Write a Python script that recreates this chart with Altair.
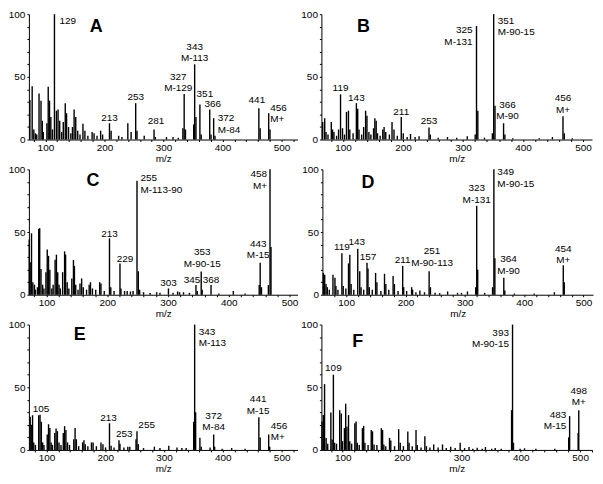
import altair as alt
import pandas as pd

FONT = "Liberation Sans, Arial, Helvetica, sans-serif"

# ---------------- data (m/z, relative intensity) ----------------
A_peaks = [(91.5,31.5),(95,42.5),(97.5,8),(100,5),(102,4),(105.5,36.7),(108.5,31),(110.5,15),(112,6),(117.5,13),(119.5,42),(121.5,31),(123.5,18),(126,8),(129,100),(132,23),(134.5,24),(137,15),(140,6),(142.5,14),(145.5,29),(147.5,21),(150.5,10),(154,5),(156.5,10),(159,24),(161.5,18),(164.5,7),(168,4),(172.5,12.5),(175.5,7),(180,3),(186.5,6),(189.5,5),(194,3),(199.5,7),(202.5,4),(213,13),(215.5,7),(227,3),(232,2),(241,13),(246,6),(253,29),(255,7),(266,3),(281,8),(283,2),(300,2),(310,2),(318,1.5),(325,9),(327,36.4),(329,8),(341.5,12),(343,60),(345,18),(351,28),(353,4),(366,24),(368,4),(372,17),(374,3),(441,25),(443,9),(456,21),(458,8)]
B_peaks = [(92,14),(95,17),(97,6),(100,4),(105,14),(107,8),(109,6),(113,3),(116,8),(119,36),(122,9),(125,4),(128,22),(131,23),(133,8),(138,5),(143,29),(145,24.5),(147,8),(151,4),(154,10),(157,23),(159,19),(162,6),(165,4),(169,9),(171,17),(173,15),(175,5),(179,3),(183,8),(185,10),(187.5,6),(193,4),(197,14),(200,8),(205,3),(211,18),(214,5),(220,2),(225,4.4),(232,2),(238,2.6),(253,9.6),(255,4),(267,1.5),(281,2),(295,1.5),(311,2.6),(323,4),(325,90.5),(327,23),(337,1.5),(349,5),(351,100),(353,27),(366,13),(368,4),(380,1),(420,1),(440,2),(456,18.6),(458,5),(470,1)]
C_peaks = [(90.5,44),(92,26),(94,49),(96,10),(98.5,8),(100,4),(103,6),(105,52.6),(106.5,53),(108.5,20.5),(111,8),(113,5),(116,18),(118,36),(120,31),(122,20),(125,5),(127,8),(130,28),(132,32),(134,18),(136,8),(138,5),(141.5,18),(144.5,34.6),(146,32),(148.5,10),(151,5),(155.5,13),(158,27.7),(159.5,23),(161.5,8),(165,4),(168,9),(170.5,13),(173,6),(178,4),(182,8),(184,10),(187,5),(192,4),(198,10),(200,9),(205,3),(213,45),(215,6),(220,3),(229,25),(230.5,5),(236,3),(240,3),(245,2.6),(249,3),(255,91),(257,18.7),(259,4),(265,2),(275,1.3),(285,2),(290,1.5),(303,5),(310,1.5),(317,2.6),(320,2),(326,2),(335,1.5),(345,7.7),(347,3),(353,18.5),(354.5,4),(368,7.7),(380,1),(402,3),(420,1),(441.5,7.7),(443,25.6),(445,6),(455.5,7.7),(458,100),(459.5,38)]
D_peaks = [(91,17.4),(93,16),(95,8.5),(97,6),(100,4),(105.5,16),(108.5,13.6),(110,7),(113,4),(119,33),(121,7),(125,5),(129,25),(131,31.8),(133,8.5),(137,4),(143,36.7),(146,18.7),(148,6),(152,4),(157,25.6),(158.5,21),(160.5,6),(165,4),(170,17.4),(172,10),(178,3),(183.5,16.7),(185.5,8.5),(190,4),(196.5,15),(198.5,8.5),(204,3),(211,23),(212.5,6),(217,3),(224.5,6),(226,4),(231,2),(237,3.3),(244,2),(251,18.7),(253,6),(260,1.5),(267,1.3),(279,2.6),(294,1.5),(300,1.5),(309,2.6),(321.5,6),(323,71),(324.5,20),(335,1.5),(347,6),(349,100),(350.5,29),(364,13.6),(365.5,3.3),(380,1),(410,1),(440.5,2),(454,23.6),(455.5,10)]
E_peaks = [(92,26.4),(93.6,20),(95.6,27.7),(97.4,6),(100,4),(105,27.7),(107,28),(109,22.5),(111,6),(113,4),(118,12.3),(120,20.5),(122,17.4),(124,6),(126,4),(129.5,13.6),(131.5,17),(133.5,15),(136,6),(139,4),(142.5,13.6),(144.5,19),(146.5,16),(149,6),(152,4),(158.5,8.5),(160.5,17.4),(162.5,8.5),(166,3),(172,6),(174,7.7),(176,4.6),(180,3),(185.5,6),(188,6),(193,3),(200,6),(203,4.6),(207,2),(213,21.3),(215.5,3.3),(220,2),(227.5,7.7),(229,5),(235,2),(241,2.6),(244,2.6),(253.5,8.5),(255,15),(257,4.6),(265,1.5),(281.5,2.6),(290,1.5),(303.5,3.3),(316,2),(323.5,1.5),(330,1.5),(341.5,22.5),(343,100),(344.5,30),(351,9.7),(353,2.6),(366.5,2),(372,12.3),(373.5,2.6),(385,1),(399.5,1.5),(420,1),(441,26),(443,10),(456,12.3),(457.5,2.6)]
F_peaks = [(91,22.6),(93,27.8),(95,52.5),(97.5,9.6),(100,5),(105,29.9),(107,8.3),(109,60),(111,5.7),(114,5),(119,31.7),(121.5,29),(123.5,7),(126.5,17.4),(128.5,36.9),(130.5,18.7),(133,27.8),(135,7),(138,5),(143,21.3),(145,22.6),(147,5.7),(150,4),(155,17.4),(157,19.2),(159,5.7),(164,4),(169,16),(171,14.8),(173.5,4.4),(178,4),(185,17.4),(187,16),(189,4.4),(192,3),(198,9.6),(200,7.5),(206,3),(212.5,16.6),(215,5.7),(220,3),(227,14.8),(229,5.7),(234,3),(240,16),(242,4),(248,2),(254,10.9),(256.5,3),(262,2),(268,4.4),(275,2),(282,4.4),(288,1.5),(295,2.6),(302,1.5),(310,5.7),(317,1.5),(324,2.3),(330,1),(337,1.8),(345,1),(350,2.3),(360,1),(365.5,1.5),(375,1),(391.5,31.7),(393,100),(394.5,5.7),(405,1),(412,1.3),(430,1),(460,1),(482,10),(483.5,27),(497,13.5),(498,31.7)]

# peak annotations: (text, m/z of labelled peak, label level in intensity units)
A_labels = [("129",129,98.5),("213",213,21),("253",253,37.9),("281",281,18.7),("327\nM-129",327,54.1),("343\nM-113",343,77.9),("351",351,40.2),("366",366,32.3),("372\nM-84",372,21),("441",441,35.1),("456\nM+",456,29.2)]
B_labels = [("119",119,45.1),("143",143,37.4),("211",211,26.1),("253",253,18.5),("325\nM-131",325,91.2),("351\nM-90-15",351,98.9),("366\nM-90",366,31.8),("456\nM+",456,36.9)]
C_labels = [("255\nM-113-90",255,96.9),("213",213,52.5),("229",229,32.3),("303",303,13.1),("345",345,15.4),("353\nM-90-15",353,37.9),("368",368,15.4),("443\nM-15",443,44.4),("458\nM+",458,100.2)]
D_labels = [("119",119,41.8),("143",143,46.4),("157",157,34.1),("211",211,31.8),("251\nM-90-113",251,38.7),("323\nM-131",323,88.7),("349\nM-90-15",349,101.5),("364\nM-90",364,32.3),("454\nM+",454,40.8)]
E_labels = [("105",105,36.9),("213",213,29.7),("253",253,16.4),("255",255,24.1),("343\nM-113",343,98.1),("372\nM-84",372,31),("441\nM-15",441,44.3),("456\nM+",456,23.3)]
F_labels = [("109",109,69.2),("393\nM-90-15",393,97.5),("483\nM-15",483,32.1),("498\nM+",498,51.3)]

# panel letters: (letter, m/z, level)
LETTERS = {"A": ("A",192.7,89.5), "B": ("B",153.7,89.5), "C": ("C",187.6,90.6),
           "D": ("D",158.5,89.5), "E": ("E",167.6,91.3), "F": ("F",147.4,86)}

# ---------------- styles (label offsets/alignments, scales, sizes) ----------------
A_style = [(5,"left"),(0,"center"),(0,"center"),(2,"center"),(-6,"center"),(0,"center"),(5,"center"),(3,"center"),(4,"left"),(-2,"center"),(1.5,"left")]
B_style = [(0,"center"),(0,"center"),(0,"center"),(0,"center"),(-4,"right"),(4,"left"),(4,"center"),(0,"center")]
C_style = [(3.5,"left"),(0,"center"),(5,"center"),(0,"center"),(-4,"center"),(1,"center"),(0,"center"),(-2,"center"),(-3,"right")]
D_style = [(0,"center"),(-1,"center"),(1,"center"),(0,"center"),(3,"center"),(0,"center"),(3.5,"left"),(4.7,"center"),(0,"center")]
E_style = [(2.3,"center"),(-1,"center"),(-11.4,"center"),(9.7,"center"),(4,"left"),(0,"center"),(-0.7,"center"),(2,"left")]
F_style = [(0,"center"),(-3.6,"right"),(-3,"right"),(0,"center")]

DATA_DOM = {"A": [90,500], "B": [90,500], "C": [90,500], "D": [89.5,499], "E": [90,500], "F": [90,519]}
AXIS_DOM = {"A": [72,527], "B": [64,515], "C": [71,513], "D": [60,516], "E": [70,527], "F": [64,520]}
W_LEFT, W_RIGHT, H = 270, 272, 126
BAR_WIDTH = 1.4


def yaxis():
    return alt.Axis(values=list(range(0, 101, 10)),
                    labelExpr="datum.value % 50 === 0 ? datum.label : ''",
                    title=None, grid=False, tickSize=2, labelPadding=2,
                    labelFontSize=10, labelFont=FONT, labelColor="black",
                    domainColor="black", tickColor="black",
                    labelFlush=False, labelOverlap=False)


def panel(key, peaks, labels, style, width):
    xs = alt.Scale(domain=DATA_DOM[key], nice=False, zero=False)
    ys = alt.Scale(domain=[0, 100], nice=False, zero=False)
    df = pd.DataFrame(peaks, columns=["x", "y"])
    bars = alt.Chart(df).mark_rule(color="black", strokeWidth=BAR_WIDTH).encode(
        x=alt.X("x:Q", scale=xs, axis=None),
        y=alt.Y("y:Q", scale=ys, axis=yaxis()),
        y2=alt.datum(0),
    )
    layers = [bars]
    for (txt, mz, lvl), (dx, al) in zip(labels, style):
        d = pd.DataFrame({"x": [mz], "y": [lvl], "t": [txt]})
        layers.append(
            alt.Chart(d).mark_text(align=al, baseline="top", dx=dx, fontSize=10,
                                   font=FONT, lineBreak="\n", lineHeight=11.5,
                                   color="black").encode(
                x=alt.X("x:Q", scale=xs, axis=None),
                y=alt.Y("y:Q", scale=ys, axis=yaxis()),
                text="t:N",
            )
        )
    let, lmz, llv = LETTERS[key]
    layers.append(
        alt.Chart(pd.DataFrame({"x": [lmz], "y": [llv], "t": [let]})).mark_text(
            align="center", baseline="middle", fontSize=18, fontWeight="bold",
            font=FONT, color="black").encode(
            x=alt.X("x:Q", scale=xs, axis=None),
            y=alt.Y("y:Q", scale=ys, axis=yaxis()),
            text="t:N",
        )
    )
    lo, hi = AXIS_DOM[key]
    ticks = [v for v in range(80, 521, 20) if lo <= v <= hi]
    carrier = alt.Chart(pd.DataFrame({"x": ticks})).mark_point(opacity=0).encode(
        x=alt.X("x:Q", scale=alt.Scale(domain=[lo, hi], nice=False, zero=False),
                axis=alt.Axis(values=ticks,
                              labelExpr="datum.value % 100 === 0 ? datum.label : ''",
                              title="m/z", orient="bottom", grid=False, tickSize=2,
                              labelPadding=1, titlePadding=1, labelFontSize=10,
                              titleFontSize=10, titleFontWeight="normal",
                              labelFont=FONT, titleFont=FONT, labelColor="black",
                              titleColor="black", domainColor="black",
                              tickColor="black", labelFlush=False,
                              labelOverlap=False)),
        y=alt.value(0),
    )
    return alt.layer(*layers, carrier).resolve_scale(x="independent").properties(
        width=width, height=H)


pA = panel("A", A_peaks, A_labels, A_style, W_LEFT)
pB = panel("B", B_peaks, B_labels, B_style, W_RIGHT)
pC = panel("C", C_peaks, C_labels, C_style, W_LEFT)
pD = panel("D", D_peaks, D_labels, D_style, W_RIGHT)
pE = panel("E", E_peaks, E_labels, E_style, W_LEFT)
pF = panel("F", F_peaks, F_labels, F_style, W_RIGHT)

chart = alt.vconcat(
    alt.hconcat(pA, pB, spacing=3),
    alt.hconcat(pC, pD, spacing=3),
    alt.hconcat(pE, pF, spacing=3),
    spacing=1,
).properties(padding=0, background="white").configure_view(stroke=None)

chart.save("out.html", embed_options={"renderer": "svg", "actions": False})
